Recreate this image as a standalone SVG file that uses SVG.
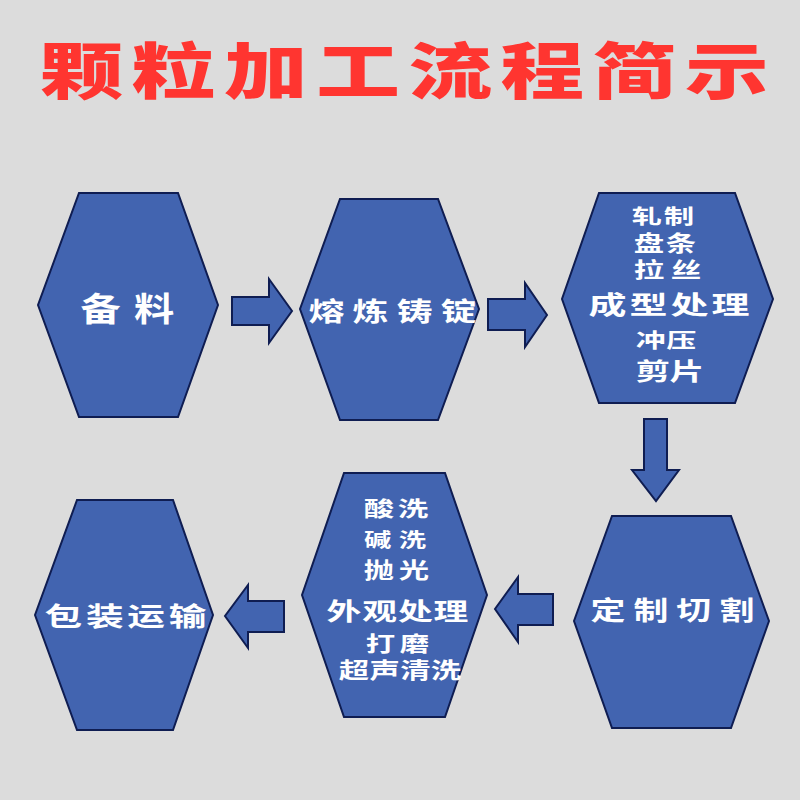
<svg xmlns="http://www.w3.org/2000/svg" width="800" height="800" viewBox="0 0 800 800">
<style>
.hex{fill:#4264b0;stroke:#0f1d52;stroke-width:2;stroke-linejoin:miter}
.arr{fill:#4264b0;stroke:#0f1d52;stroke-width:2;stroke-linejoin:miter}
.t{fill:#ffffff;font-family:"Noto Sans CJK SC","Noto Sans CJK JP",sans-serif;font-weight:bold}
.title{fill:#ff3530;font-family:"Noto Sans CJK SC","Noto Sans CJK JP",sans-serif;font-weight:900}
</style>
<rect width="800" height="800" fill="#dcdcdc"/>
<g id="title" transform="translate(39.7,93.7) scale(1.37,1)"><text class="title" x="0" y="0" font-size="61" textLength="532" lengthAdjust="spacing">颗粒加工流程简示</text></g>

<g id="node-beiliao">
<polygon class="hex" points="79,193 178,193 218,305 178,417 79,417 38,305"/>
<g transform="translate(80.4,320.5) scale(1.22,1)"><text class="t" font-size="33" textLength="77" lengthAdjust="spacing">备料</text></g>
</g>
<g id="node-ronglian">
<polygon class="hex" points="340,199 438,199 479,309 438,420 340,420 300,309"/>
<g transform="translate(308.6,321.4) scale(1.38,1)"><text class="t" font-size="26" textLength="121.7" lengthAdjust="spacing">熔炼铸锭</text></g>
</g>
<g id="node-chengxing">
<polygon class="hex" points="599,193 735,193 773,299 735,403 599,403 562,299"/>
<g transform="translate(631.8,223.6) scale(1.52,1)"><text class="t" font-size="20" textLength="41" lengthAdjust="spacing">轧制</text></g>
<g transform="translate(633.8,251.4) scale(1.38,1)"><text class="t" font-size="22" textLength="45.2" lengthAdjust="spacing">盘条</text></g>
<g transform="translate(633.8,277) scale(1.45,1)"><text class="t" font-size="21" textLength="46.5" lengthAdjust="spacing">拉丝</text></g>
<g transform="translate(588.5,313.5) scale(1.52,1)"><text class="t" font-size="25" textLength="106" lengthAdjust="spacing">成型处理</text></g>
<g transform="translate(635.8,347.6) scale(1.5,1)"><text class="t" font-size="20" textLength="40.3" lengthAdjust="spacing">冲压</text></g>
<g transform="translate(635.6,380.1) scale(1.45,1)"><text class="t" font-size="24" textLength="47.4" lengthAdjust="spacing">剪片</text></g>
</g>
<g id="node-qiege">
<polygon class="hex" points="612,516 731,516 769,621 731,728 612,728 574,621"/>
<g transform="translate(590.6,619.9) scale(1.34,1)"><text class="t" font-size="26" textLength="122" lengthAdjust="spacing">定制切割</text></g>
</g>
<g id="node-waiguan">
<polygon class="hex" points="344,473 445,473 487,595 445,717 344,717 302,595"/>
<g transform="translate(363.8,515.5) scale(1.45,1)"><text class="t" font-size="21" textLength="44.4" lengthAdjust="spacing">酸洗</text></g>
<g transform="translate(363.9,547.4) scale(1.4,1)"><text class="t" font-size="19.5" textLength="44.4" lengthAdjust="spacing">碱洗</text></g>
<g transform="translate(363.8,578.4) scale(1.38,1)"><text class="t" font-size="22" textLength="47.4" lengthAdjust="spacing">抛光</text></g>
<g transform="translate(326.6,620.1) scale(1.45,1)"><text class="t" font-size="24" textLength="97.8" lengthAdjust="spacing">外观处理</text></g>
<g transform="translate(365.8,650.5) scale(1.4,1)"><text class="t" font-size="21" textLength="45.3" lengthAdjust="spacing">打磨</text></g>
<g transform="translate(338.8,678.4) scale(1.38,1)"><text class="t" font-size="22" textLength="88.7" lengthAdjust="spacing">超声清洗</text></g>
</g>
<g id="node-baozhuang">
<polygon class="hex" points="77,500 173,500 213,615 173,730 77,730 35,615"/>
<g transform="translate(44.5,626.4) scale(1.45,1)"><text class="t" font-size="26" textLength="111.7" lengthAdjust="spacing">包装运输</text></g>
</g>

<g id="connectors">
<polygon class="arr" points="232,297 269,297 269,279 292,311 269,343 269,325 232,325"/>
<polygon class="arr" points="488,299 525,299 525,283 547,315 525,347 525,330 488,330"/>
<polygon class="arr" points="644,419 667,419 667,470 679,470 656,501 632,470 644,470"/>
<polygon class="arr" points="553,594 518,594 518,577 495,609 518,642 518,625 553,625"/>
<polygon class="arr" points="284,601 248,601 248,585 225,616 248,648 248,632 284,632"/>
</g>
</svg>
